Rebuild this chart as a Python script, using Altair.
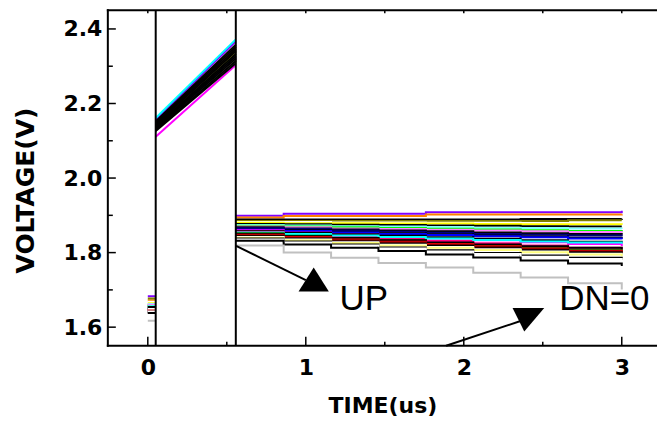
import altair as alt
import pandas as pd

# ---------------- data ----------------
edges = [0.05, 0.557]                      # clock edges (us)
pre_t = [0.0, 0.05]
ramp_t = [0.05, 0.557]
post_t = [0.557, 0.86, 1.16, 1.46, 1.76, 2.06, 2.36, 2.66, 3.0]

colors = ["#8000FF", "#FF8000", "#000000", "#808000", "#FFFFFF", "#FFFF00",
          "#000000", "#80FFFF", "#00FF00", "#FF80FF", "#000000", "#000080",
          "#000000", "#0000FF", "#FF00FF", "#000000", "#FF0080", "#00FFFF",
          "#008000", "#000000", "#FF0000", "#800000", "#000000", "#FFFFFF",
          "#FFFF80", "#000000", "#FFFFFF", "#000000", "#C0C0C0"]

pre_v = [1.683, 1.672, 1.660, 1.677, 1.668, 1.664, 1.657, 1.662, 1.655, 1.660,
         1.652, 1.650, 1.648, 1.653, 1.647, 1.644, 1.646, 1.657, 1.651, 1.641,
         1.649, 1.645, 1.639, 1.650, 1.655, 1.654, 1.642, 1.638, 1.617]

ramp_start = [2.157, 2.142, 2.152, 2.140, 2.138, 2.136, 2.149, 2.135, 2.134, 2.133,
              2.146, 2.132, 2.143, 2.131, 2.111, 2.139, 2.130, 2.161, 2.129, 2.136,
              2.128, 2.127, 2.133, 2.128, 2.127, 2.129, 2.126, 2.126, 2.130]
ramp_end = [2.367, 2.345, 2.358, 2.340, 2.336, 2.334, 2.352, 2.330, 2.328, 2.326,
            2.346, 2.324, 2.340, 2.322, 2.303, 2.333, 2.320, 2.372, 2.318, 2.327,
            2.316, 2.314, 2.321, 2.315, 2.313, 2.314, 2.311, 2.308, 2.320]

post_v = [
    [1.899, 1.904, 1.904, 1.904, 1.908, 1.908, 1.908, 1.908, 1.912],
    [1.894, 1.898, 1.898, 1.898, 1.902, 1.902, 1.902, 1.902, 1.903],
    [1.889, 1.889, 1.889, 1.889, 1.889, 1.889, 1.890, 1.890, 1.891],
    [1.885, 1.885, 1.885, 1.885, 1.885, 1.885, 1.885, 1.887, 1.887],
    [1.882, 1.882, 1.881, 1.881, 1.880, 1.880, 1.879, 1.879, 1.879],
    [1.880, 1.879, 1.879, 1.878, 1.878, 1.877, 1.876, 1.876, 1.875],
    [1.877, 1.876, 1.875, 1.874, 1.873, 1.872, 1.871, 1.870, 1.870],
    [1.874, 1.873, 1.871, 1.870, 1.869, 1.867, 1.866, 1.865, 1.864],
    [1.872, 1.870, 1.868, 1.866, 1.864, 1.862, 1.860, 1.858, 1.856],
    [1.870, 1.868, 1.865, 1.863, 1.861, 1.859, 1.857, 1.855, 1.853],
    [1.868, 1.865, 1.862, 1.859, 1.857, 1.854, 1.852, 1.850, 1.848],
    [1.866, 1.863, 1.859, 1.856, 1.853, 1.850, 1.848, 1.846, 1.844],
    [1.864, 1.860, 1.856, 1.852, 1.849, 1.846, 1.843, 1.840, 1.838],
    [1.862, 1.858, 1.854, 1.850, 1.847, 1.844, 1.841, 1.838, 1.836],
    [1.860, 1.854, 1.849, 1.843, 1.838, 1.833, 1.828, 1.823, 1.818],
    [1.858, 1.853, 1.849, 1.845, 1.841, 1.837, 1.833, 1.829, 1.826],
    [1.856, 1.850, 1.843, 1.837, 1.831, 1.825, 1.819, 1.813, 1.808],
    [1.854, 1.850, 1.846, 1.842, 1.838, 1.834, 1.830, 1.827, 1.824],
    [1.852, 1.845, 1.839, 1.833, 1.826, 1.820, 1.814, 1.808, 1.803],
    [1.850, 1.844, 1.839, 1.833, 1.827, 1.822, 1.817, 1.813, 1.809],
    [1.848, 1.842, 1.835, 1.829, 1.823, 1.817, 1.811, 1.805, 1.800],
    [1.846, 1.840, 1.833, 1.827, 1.821, 1.815, 1.809, 1.803, 1.798],
    [1.844, 1.837, 1.830, 1.824, 1.818, 1.812, 1.806, 1.800, 1.795],
    [1.842, 1.835, 1.828, 1.821, 1.815, 1.809, 1.803, 1.797, 1.792],
    [1.840, 1.833, 1.826, 1.819, 1.813, 1.807, 1.801, 1.795, 1.790],
    [1.838, 1.830, 1.822, 1.814, 1.806, 1.799, 1.792, 1.786, 1.781],
    [1.835, 1.827, 1.819, 1.811, 1.803, 1.796, 1.789, 1.783, 1.778],
    [1.832, 1.822, 1.813, 1.804, 1.795, 1.787, 1.779, 1.771, 1.764],
    [1.819, 1.800, 1.786, 1.772, 1.760, 1.746, 1.733, 1.718, 1.701],
]

x_major = [0, 1, 2, 3]
x_minor = [0.5, 1.5, 2.5]
x_top = [0, 0.5, 1, 1.5, 2, 2.5, 3]
y_major = [1.6, 1.8, 2.0, 2.2, 2.4]
y_minor = [1.7, 1.9, 2.1, 2.3]

# annotations
arrow_lines = {"t": [0.559, 1.888], "v": [1.818, 1.550], "t2": [1.0, 2.364], "v2": [1.726, 1.617]}
up_head = {"t": [1.050], "v": [1.728]}
dn_head = {"t": [2.409], "v": [1.620]}
labels = {"t": [1.213, 2.604], "v": [1.646, 1.646], "text": ["UP", "DN=0"]}

# ---------------- tables ----------------
step_rows, ramp_rows = [], []
for i, c in enumerate(colors):
    for t in pre_t:
        step_rows.append({"key": f"{i:02d}a", "t": t, "v": pre_v[i], "color": c})
    for t, v in zip(post_t, post_v[i]):
        step_rows.append({"key": f"{i:02d}b", "t": t, "v": v, "color": c})
    for t, v in zip(ramp_t, [ramp_start[i], ramp_end[i]]):
        ramp_rows.append({"key": f"{i:02d}", "t": t, "v": v, "color": c,
                          "black": c == "#000000"})
steps = pd.DataFrame(step_rows)
ramps = pd.DataFrame(ramp_rows)

W, H = 550, 336
xs = alt.Scale(domain=[-0.253, 3.223], nice=False, zero=False)
ys = alt.Scale(domain=[1.55, 2.45], nice=False, zero=False)

x_axis = alt.Axis(values=x_major, format="d", ticks=False, tickSize=0, domain=False,
                  grid=False, labelFont="DejaVu Sans", labelFontWeight="bold",
                  labelFontSize=22, labelColor="black", labelBaseline="alphabetic",
                  labelPadding=29, labelOverlap=False, labelFlush=False,
                  title="TIME(us)", titleFont="DejaVu Sans", titleFontWeight="bold",
                  titleFontSize=22, titleColor="black", titleBaseline="alphabetic",
                  titleY=67)
y_axis = alt.Axis(values=y_major, format=".1f", ticks=False, tickSize=0, domain=False,
                  grid=False, labelFont="DejaVu Sans", labelFontWeight="bold",
                  labelFontSize=22, labelColor="black", labelPadding=6,
                  labelOverlap=False, labelFlush=False,
                  title="VOLTAGE(V)", titleFont="DejaVu Sans", titleFontWeight="bold",
                  titleFontSize=25, titleColor="black", titleAngle=270,
                  titleAlign="center", titleBaseline="middle", titleX=-82, titleY=180)


def X(f="t"):
    return alt.X(f"{f}:Q", scale=xs, axis=x_axis)


def Y(f="v"):
    return alt.Y(f"{f}:Q", scale=ys, axis=y_axis)


step_layer = alt.Chart(steps).mark_line(interpolate="step-after", strokeWidth=2, clip=True).encode(
    x=X(), y=Y(), color=alt.Color("color:N", scale=None), detail="key:N")
ramp_col = alt.Chart(ramps).transform_filter("!datum.black").mark_line(strokeWidth=2, clip=True).encode(
    x=X(), y=Y(), color=alt.Color("color:N", scale=None), detail="key:N")
ramp_blk = alt.Chart(ramps).transform_filter("datum.black").mark_line(strokeWidth=2, clip=True).encode(
    x=X(), y=Y(), color=alt.Color("color:N", scale=None), detail="key:N")

edge_layer = alt.Chart(pd.DataFrame({"t": edges})).mark_rule(color="black", strokeWidth=2).encode(x=X())

# frame: left, bottom and top (the right side lies outside the window)
frame_left = alt.Chart(pd.DataFrame({"t": [0]})).mark_rule(color="black", strokeWidth=2).encode(
    x=alt.value(0), y=alt.value(-1), y2=alt.value(H + 1))
frame_bottom = alt.Chart(pd.DataFrame({"t": [0]})).mark_rule(color="black", strokeWidth=2).encode(
    x=alt.value(-1), x2=alt.value(W + 10), y=alt.value(H))
frame_top = alt.Chart(pd.DataFrame({"t": [0]})).mark_rule(color="black", strokeWidth=2).encode(
    x=alt.value(-1), x2=alt.value(W + 10), y=alt.value(0))

tick_bm = alt.Chart(pd.DataFrame({"t": x_major})).mark_rule(color="black", strokeWidth=1.5).encode(
    x=X(), y=alt.value(H), y2=alt.value(H - 9))
tick_bn = alt.Chart(pd.DataFrame({"t": x_minor})).mark_rule(color="black", strokeWidth=1.5).encode(
    x=X(), y=alt.value(H), y2=alt.value(H - 4))
tick_top = alt.Chart(pd.DataFrame({"t": x_top})).mark_rule(color="black", strokeWidth=1.5).encode(
    x=X(), y=alt.value(0), y2=alt.value(3))
tick_lm = alt.Chart(pd.DataFrame({"v": y_major})).mark_rule(color="black", strokeWidth=1.5).encode(
    y=Y(), x=alt.value(0), x2=alt.value(8))
tick_ln = alt.Chart(pd.DataFrame({"v": y_minor})).mark_rule(color="black", strokeWidth=1.5).encode(
    y=Y(), x=alt.value(0), x2=alt.value(5))

arrow_layer = alt.Chart(pd.DataFrame(arrow_lines)).mark_rule(color="black", strokeWidth=2).encode(
    x=X(), y=Y(), x2="t2:Q", y2="v2:Q")
up_layer = alt.Chart(pd.DataFrame(up_head)).mark_point(
    shape="M0,-0.79L1,0.79L-1,0.79Z", size=918, filled=True, color="black", opacity=1,
    strokeWidth=0).encode(x=X(), y=Y())
dn_layer = alt.Chart(pd.DataFrame(dn_head)).mark_point(
    shape="M-1,-0.74L1,-0.74L-0.26,0.74Z", size=1005, filled=True, color="black", opacity=1,
    strokeWidth=0).encode(x=X(), y=Y())
text_layer = alt.Chart(pd.DataFrame(labels)).mark_text(
    align="left", baseline="alphabetic", font="Liberation Sans", fontSize=35,
    color="black").encode(x=X(), y=Y(), text="text:N")

chart = alt.layer(
    step_layer, ramp_col, ramp_blk, edge_layer,
    frame_left, frame_bottom, frame_top,
    tick_bm, tick_bn, tick_top, tick_lm, tick_ln,
    arrow_layer, up_layer, dn_layer, text_layer,
).properties(
    width=W, height=H,
    autosize=alt.AutoSizeParams(type="none"),
    padding={"left": 108, "top": 10, "right": 0, "bottom": 80},
    background="white",
).configure_view(stroke=None)

chart.save("out.html", embed_options={"renderer": "svg", "actions": False})
